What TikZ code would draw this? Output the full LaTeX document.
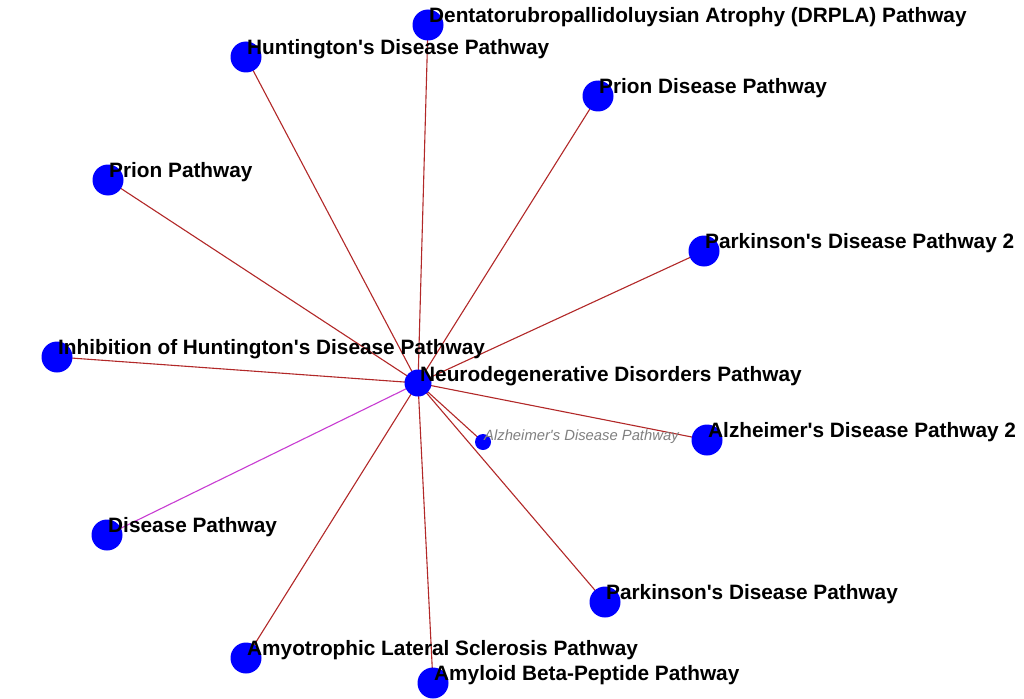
\documentclass[tikz,border=0pt]{standalone}
\usepackage{fontspec}
\setmainfont{Liberation Sans}[Ligatures=TeXOff]
\begin{document}
\begin{tikzpicture}[x=1pt,y=-1pt,
  hub/.style={circle,fill=blue,inner sep=0pt,minimum size=27pt},
  leaf/.style={circle,fill=blue,inner sep=0pt,minimum size=31pt},
  minor/.style={circle,fill=blue,inner sep=0pt,minimum size=16pt},
  lbl/.style={anchor=west,inner sep=0pt,font=\bfseries\fontsize{20.8}{22}\selectfont},
  smalllbl/.style={anchor=west,inner sep=0pt,text=gray,font=\itshape\fontsize{14.8}{16}\selectfont},
  rel/.style={draw={rgb,255:red,178;green,40;blue,40},line width=1.1pt},
  sim/.style={draw={rgb,255:red,200;green,60;blue,210},line width=1.1pt}]
\useasboundingbox (0,0) rectangle (1024,698);
\fill[white] (0,0) rectangle (1024,698);
% vertex positions; edges are drawn first so the vertices sit on top
\coordinate (ndp) at (418,383);
\coordinate (drp) at (428,25);
\coordinate (hun) at (246,57);
\coordinate (prd) at (598,96);
\coordinate (pri) at (108,180);
\coordinate (pk2) at (704,251);
\coordinate (inh) at (57,357);
\coordinate (az2) at (707,440);
\coordinate (az)  at (483,442);
\coordinate (dis) at (107,535);
\coordinate (pkd) at (605,602);
\coordinate (als) at (246,658);
\coordinate (amy) at (433,683);
\foreach \t in {drp,hun,prd,pri,pk2,inh,az2,az,pkd,als,amy}
  \draw[rel] (ndp) -- (\t);
\draw[sim] (ndp) -- (dis);
% vertices
\node[hub]  (vndp) at (ndp) {};
\foreach \t in {drp,hun,prd,pri,pk2,inh,az2,dis,pkd,als,amy}
  \node[leaf] (v\t) at (\t) {};
\node[minor] (vaz) at (az) {};
% labels
\node[lbl] (tndp) at ([xshift=2pt,yshift=7pt]vndp.center) {Neurodegenerative Disorders Pathway};
\node[lbl] (tdrp) at ([xshift=1pt,yshift=8pt]vdrp.center) {Dentatorubropallidoluysian Atrophy (DRPLA) Pathway};
\node[lbl] (thun) at ([xshift=1pt,yshift=8pt]vhun.center) {Huntington's Disease Pathway};
\node[lbl] (tprd) at ([xshift=1pt,yshift=8pt]vprd.center) {Prion Disease Pathway};
\node[lbl] (tpri) at ([xshift=1pt,yshift=8pt]vpri.center) {Prion Pathway};
\node[lbl] (tpk2) at ([xshift=1pt,yshift=8pt]vpk2.center) {Parkinson's Disease Pathway 2};
\node[lbl] (tinh) at ([xshift=1pt,yshift=8pt]vinh.center) {Inhibition of Huntington's Disease Pathway};
\node[lbl] (taz2) at ([xshift=1pt,yshift=8pt]vaz2.center) {Alzheimer's Disease Pathway 2};
\node[smalllbl] (taz) at ([xshift=1pt,yshift=5pt]vaz.center) {Alzheimer's Disease Pathway};
\node[lbl] (tdis) at ([xshift=1pt,yshift=8pt]vdis.center) {Disease Pathway};
\node[lbl] (tpkd) at ([xshift=1pt,yshift=8pt]vpkd.center) {Parkinson's Disease Pathway};
\node[lbl] (tals) at ([xshift=1pt,yshift=8pt]vals.center) {Amyotrophic Lateral Sclerosis Pathway};
\node[lbl] (tamy) at ([xshift=1pt,yshift=8pt]vamy.center) {Amyloid Beta-Peptide Pathway};
\end{tikzpicture}
\end{document}
